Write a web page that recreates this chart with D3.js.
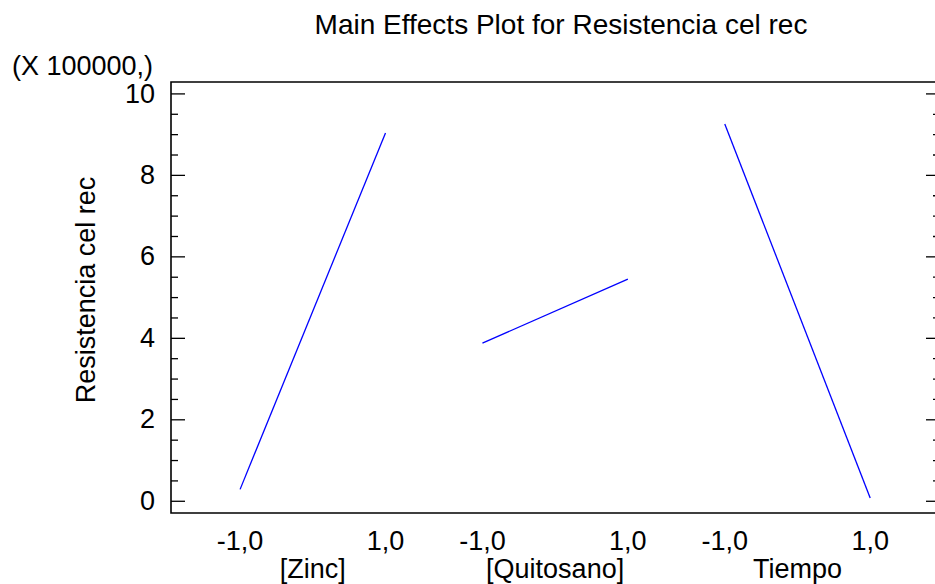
<!DOCTYPE html>
<html>
<head>
<meta charset="utf-8">
<script src="https://cdn.jsdelivr.net/npm/d3@7"></script>
<style>
  html, body { margin: 0; padding: 0; background: #fff; }
  svg { display: block; font-family: "Liberation Sans", Arial, sans-serif; }
</style>
</head>
<body>
<div id="chart"></div>
<script>
// Main effects plot data (values in units of 100000)
const factors = ["[Zinc]", "[Quitosano]", "Tiempo"];
const lowValues = [0.28, 3.87, 9.25];
const highValues = [9.03, 5.44, 0.07];
const levelLabels = ["-1,0", "1,0"];
const yTicks = [0, 2, 4, 6, 8, 10];

const width = 935, height = 584;
const frame = { left: 171, right: 940, top: 82, bottom: 513 };
const groupStep = 3.333; // spacing between factors in x units

const svg = d3.select("#chart").append("svg")
  .attr("width", width)
  .attr("height", height);

const x = d3.scaleLinear()
  .domain([-1.95, 2 * groupStep + 1.96])
  .range([frame.left, frame.right]);

const y = d3.scaleLinear()
  .domain([-0.3, 10.28])
  .range([frame.bottom, frame.top]);

// minor ticks on both sides
const minorTicks = d3.range(0, 10.01, 0.5).filter((d) => d % 2 !== 0);

svg.append("g")
  .attr("transform", `translate(${frame.left},0)`)
  .call(d3.axisLeft(y).tickValues(minorTicks).tickSize(-7).tickFormat(""))
  .call((g) => g.select(".domain").remove());

svg.append("g")
  .attr("transform", `translate(${frame.right},0)`)
  .call(d3.axisRight(y).tickValues(minorTicks).tickSize(-7).tickFormat(""))
  .call((g) => g.select(".domain").remove());

svg.append("g")
  .attr("transform", `translate(${frame.right},0)`)
  .call(d3.axisRight(y).tickValues(yTicks).tickSize(-14).tickFormat(""))
  .call((g) => g.select(".domain").remove());

const yAxis = svg.append("g")
  .attr("transform", `translate(${frame.left},0)`)
  .call(d3.axisLeft(y).tickValues(yTicks).tickSize(-14).tickPadding(16));
yAxis.select(".domain").remove();
yAxis.selectAll("text")
  .attr("font-size", 27)
  .attr("font-family", "'Liberation Sans', Arial, sans-serif")
  .attr("fill", "#000");

svg.selectAll(".tick line").attr("stroke", "#000").attr("stroke-width", 1.3);

// frame: left, top, bottom (right edge falls outside the window)
svg.append("path")
  .attr("d", `M${frame.right},${frame.top}H${frame.left}V${frame.bottom}H${frame.right}`)
  .attr("fill", "none")
  .attr("stroke", "#000")
  .attr("stroke-width", 1.6);

// effect lines
factors.forEach((f, i) => {
  const x0 = x(i * groupStep - 1), x1 = x(i * groupStep + 1);
  svg.append("line")
    .attr("x1", x0).attr("y1", y(lowValues[i]))
    .attr("x2", x1).attr("y2", y(highValues[i]))
    .attr("stroke", "#0000ff")
    .attr("stroke-width", 1.3);

  [-1, 1].forEach((lv, j) => {
    svg.append("text")
      .attr("x", x(i * groupStep + lv))
      .attr("y", 550)
      .attr("text-anchor", "middle")
      .attr("font-size", 27)
      .text(levelLabels[j]);
  });

  svg.append("text")
    .attr("x", x(i * groupStep))
    .attr("y", 578)
    .attr("text-anchor", "middle")
    .attr("font-size", 27)
    .text(f);
});

// titles
svg.append("text")
  .attr("x", 561)
  .attr("y", 34)
  .attr("text-anchor", "middle")
  .attr("font-size", 28)
  .text("Main Effects Plot for Resistencia cel rec");

svg.append("text")
  .attr("x", 12)
  .attr("y", 75)
  .attr("font-size", 27)
  .text("(X 100000,)");

svg.append("text")
  .attr("transform", `translate(95,290) rotate(-90)`)
  .attr("text-anchor", "middle")
  .attr("font-size", 27)
  .text("Resistencia cel rec");
</script>
</body>
</html>
